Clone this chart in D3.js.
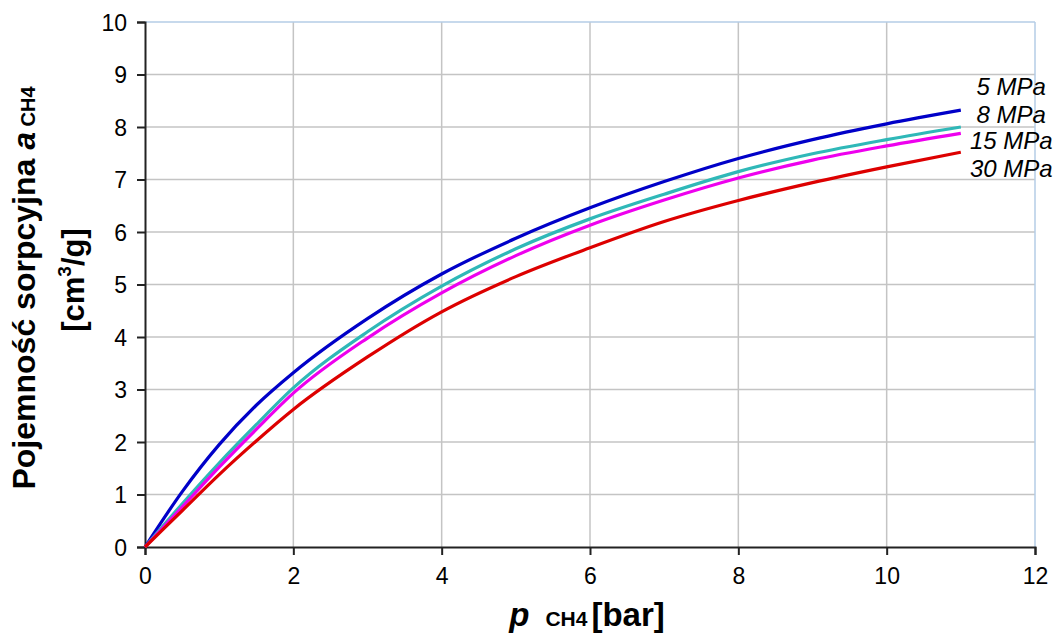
<!DOCTYPE html>
<html>
<head>
    <meta charset="utf-8">
    <title>Pojemność sorpcyjna CH4</title>
    <script src="https://cdn.jsdelivr.net/npm/d3@7"></script>
    <style>
        body { margin: 0; background: #fff; }
        text { font-family: "Liberation Sans", Arial, sans-serif; }
    </style>
</head>
<body>
    <div id="chart"></div>
    <script>
        // pressure [bar]
        const pressure = [0, 0.5, 1, 1.5, 2, 3, 4, 5, 6, 7, 8, 9, 10, 11];
        // sorption capacity [cm3/g] for each confining stress
        const a5MPa  = [0, 1.05, 1.95, 2.70, 3.32, 4.35, 5.20, 5.88, 6.46, 6.96, 7.40, 7.76, 8.06, 8.32];
        const a8MPa  = [0, 0.82, 1.60, 2.33, 3.03, 4.10, 4.97, 5.68, 6.25, 6.72, 7.15, 7.49, 7.76, 8.00];
        const a15MPa = [0, 0.76, 1.52, 2.24, 2.93, 3.98, 4.84, 5.55, 6.13, 6.61, 7.03, 7.37, 7.64, 7.88];
        const a30MPa = [0, 0.69, 1.38, 2.02, 2.62, 3.62, 4.48, 5.15, 5.70, 6.20, 6.60, 6.94, 7.24, 7.52];

        const seriesNames = ["5 MPa", "8 MPa", "15 MPa", "30 MPa"];
        const seriesValues = [a5MPa, a8MPa, a15MPa, a30MPa];
        const seriesColors = ["#0000c8", "#2fb8b8", "#ee00ee", "#dd0000"];
        // label anchor positions in data units (x, y)
        const labelX = 11.68;
        const labelY = [8.61, 8.08, 7.58, 7.05];

        const xTicks = [0, 2, 4, 6, 8, 10, 12];
        const yTicks = [0, 1, 2, 3, 4, 5, 6, 7, 8, 9, 10];

        const width = 1061, height = 637;
        const margin = { left: 145, right: 26, top: 22, bottom: 90 };

        const svg = d3.select("#chart").append("svg")
            .attr("width", width)
            .attr("height", height);

        const x = d3.scaleLinear().domain([0, 12]).range([margin.left, width - margin.right]);
        const y = d3.scaleLinear().domain([0, 10]).range([height - margin.bottom, margin.top]);

        // gridlines
        svg.append("g")
            .selectAll("line.gx")
            .data(xTicks.filter(d => d > 0 && d < 12))
            .enter().append("line")
            .attr("x1", d => x(d)).attr("x2", d => x(d))
            .attr("y1", y(0)).attr("y2", y(10))
            .attr("stroke", "#c4c4c4").attr("stroke-width", 1.5);

        svg.append("g")
            .selectAll("line.gy")
            .data(yTicks.filter(d => d > 0 && d < 10))
            .enter().append("line")
            .attr("x1", x(0)).attr("x2", x(12))
            .attr("y1", d => y(d)).attr("y2", d => y(d))
            .attr("stroke", "#c4c4c4").attr("stroke-width", 1.5);

        // plot frame (top and right)
        svg.append("line")
            .attr("x1", x(0)).attr("x2", x(12)).attr("y1", y(10)).attr("y2", y(10))
            .attr("stroke", "#b4cde6").attr("stroke-width", 1.5);
        svg.append("line")
            .attr("x1", x(12)).attr("x2", x(12)).attr("y1", y(0)).attr("y2", y(10))
            .attr("stroke", "#b4cde6").attr("stroke-width", 1.5);

        // axes
        const xAxis = svg.append("g")
            .attr("transform", `translate(0,${y(0)})`)
            .call(d3.axisBottom(x).tickValues(xTicks).tickSize(8).tickPadding(13).tickFormat(d3.format("d")));
        const yAxis = svg.append("g")
            .attr("transform", `translate(${x(0)},0)`)
            .call(d3.axisLeft(y).tickValues(yTicks).tickSize(8).tickPadding(10).tickFormat(d3.format("d")));

        [xAxis, yAxis].forEach(ax => {
            ax.select(".domain").attr("stroke", "#222").attr("stroke-width", 2);
            ax.selectAll(".tick line").attr("stroke", "#222").attr("stroke-width", 2);
            ax.selectAll(".tick text")
                .attr("fill", "#000")
                .style("font-family", "'Liberation Sans', Arial, sans-serif")
                .style("font-size", "23px");
        });
        yAxis.selectAll(".tick text").attr("dy", "0.36em");

        // curves
        const line = d3.line()
            .x((d, i) => x(pressure[i]))
            .y(d => y(d))
            .curve(d3.curveMonotoneX);

        svg.append("g")
            .selectAll("path")
            .data(seriesValues)
            .enter().append("path")
            .attr("d", d => line(d))
            .attr("fill", "none")
            .attr("stroke", (d, i) => seriesColors[i])
            .attr("stroke-width", 3.2)
            .attr("stroke-linejoin", "round");

        // series labels
        svg.append("g")
            .selectAll("text")
            .data(seriesNames)
            .enter().append("text")
            .attr("x", x(labelX))
            .attr("y", (d, i) => y(labelY[i]))
            .attr("text-anchor", "middle")
            .style("font-size", "24px")
            .style("font-style", "italic")
            .text(d => d);

        // y axis title
        const yTitle = svg.append("text")
            .attr("transform", "translate(35,288) rotate(-90)")
            .attr("text-anchor", "middle")
            .style("font-size", "32px")
            .style("font-weight", "bold");
        yTitle.append("tspan").text("Pojemność sorpcyjna ");
        yTitle.append("tspan").style("font-style", "italic").text("a");
        yTitle.append("tspan").style("font-size", "20px").text(" CH4");

        const yTitle2 = svg.append("text")
            .attr("transform", "translate(84,280) rotate(-90)")
            .attr("text-anchor", "middle")
            .style("font-size", "31px")
            .style("font-weight", "bold");
        yTitle2.append("tspan").text("[cm");
        yTitle2.append("tspan").style("font-size", "19px").attr("dy", "-13").text("3");
        yTitle2.append("tspan").attr("dy", "13").text("/g]");

        // x axis title
        const xTitle = svg.append("text")
            .attr("x", 587)
            .attr("y", 626)
            .attr("text-anchor", "middle")
            .style("font-size", "33px")
            .style("font-weight", "bold");
        xTitle.append("tspan").style("font-style", "italic").text("p");
        xTitle.append("tspan").attr("dx", "16").style("font-size", "21px").text("CH4");
        xTitle.append("tspan").attr("dx", "4").text("[bar]");
    </script>
</body>
</html>
